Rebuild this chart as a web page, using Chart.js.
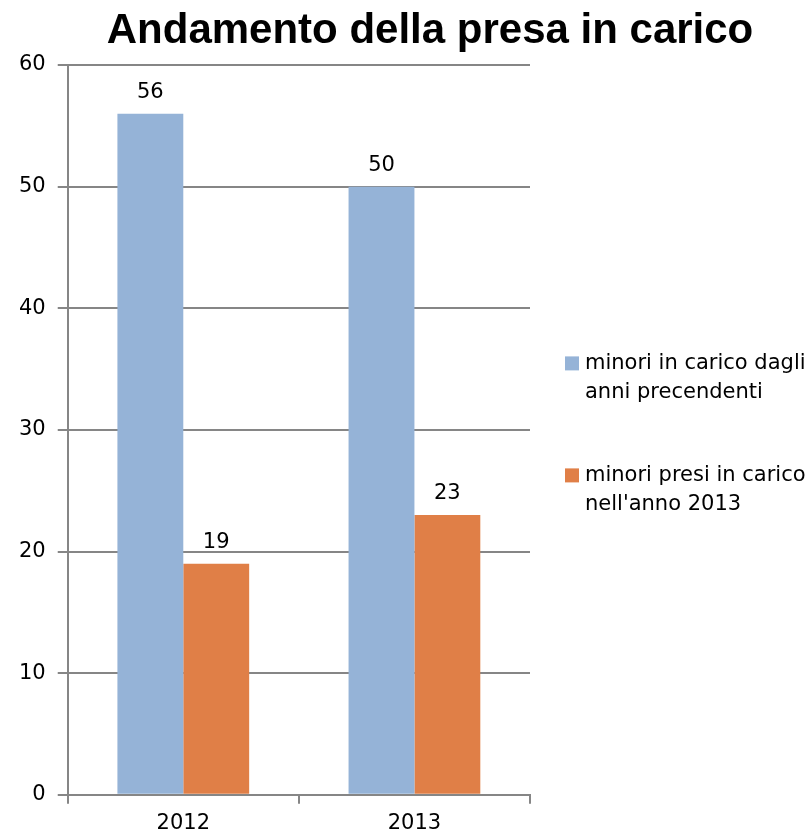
<!DOCTYPE html>
<html>
<head>
<meta charset="utf-8">
<script src="https://cdn.jsdelivr.net/npm/chart.js@4/dist/chart.umd.min.js"></script>
<style>
  html, body { margin: 0; padding: 0; background: #fff; }
  #wrap { width: 809px; height: 835px; }
</style>
</head>
<body>
<div id="wrap"><canvas id="mainChart" width="809" height="835"></canvas></div>
<script>
// Data
const years = ['2012', '2013'];
const caricoPrecedenti = [56, 50];
const presiNel2013 = [19, 23];
const seriesLabels = [
    ['minori in carico dagli', 'anni precendenti'],
    ['minori presi in carico', "nell'anno 2013"]
];
const yTicks = [0, 10, 20, 30, 40, 50, 60];
const chartTitle = 'Andamento della presa in carico';

const FONT = '"DejaVu Sans", sans-serif';
const GRID = '#868686';

// value labels above bars
const valueLabels = {
    id: 'valueLabels',
    afterDatasetsDraw(chart) {
        const ctx = chart.ctx;
        ctx.save();
        ctx.font = '21px ' + FONT;
        ctx.fillStyle = '#000';
        ctx.textAlign = 'center';
        ctx.textBaseline = 'alphabetic';
        chart.data.datasets.forEach((ds, i) => {
            chart.getDatasetMeta(i).data.forEach((bar, j) => {
                ctx.fillText(String(ds.data[j]), bar.x, bar.y - 16);
            });
        });
        ctx.restore();
    }
};

// title, drawn off-centre like the original
const titleText = {
    id: 'titleText',
    afterDraw(chart) {
        const ctx = chart.ctx;
        ctx.save();
        ctx.font = 'bold 42px "Liberation Sans", sans-serif';
        ctx.fillStyle = '#000';
        ctx.textAlign = 'center';
        ctx.textBaseline = 'alphabetic';
        ctx.fillText(chartTitle, 430, 43);
        ctx.restore();
    }
};

// legend on the right with two-line labels
const sideLegend = {
    id: 'sideLegend',
    afterDraw(chart) {
        const ctx = chart.ctx;
        const area = chart.chartArea;
        const lineH = 29;
        const itemGap = 54;
        const items = chart.data.datasets;
        let total = 0;
        items.forEach(ds => { total += ds.label.length * lineH; });
        total += itemGap * (items.length - 1);
        let y = (area.top + area.bottom) / 2 - total / 2 + lineH / 2 + 4;
        const boxX = area.right + 35;
        ctx.save();
        ctx.font = '21px ' + FONT;
        ctx.textAlign = 'left';
        ctx.textBaseline = 'middle';
        items.forEach(ds => {
            ctx.fillStyle = ds.backgroundColor;
            ctx.fillRect(boxX, y - 7, 14, 14);
            ctx.fillStyle = '#000';
            ds.label.forEach((line, k) => {
                ctx.fillText(line, boxX + 20, y + k * lineH);
            });
            y += ds.label.length * lineH + itemGap;
        });
        ctx.restore();
    }
};

new Chart(document.getElementById('mainChart'), {
    type: 'bar',
    data: {
        labels: years,
        datasets: [
            {
                label: seriesLabels[0],
                data: caricoPrecedenti,
                backgroundColor: '#95B3D7',
                categoryPercentage: 0.57,
                barPercentage: 1
            },
            {
                label: seriesLabels[1],
                data: presiNel2013,
                backgroundColor: '#E07F47',
                categoryPercentage: 0.57,
                barPercentage: 1
            }
        ]
    },
    options: {
        responsive: false,
        animation: false,
        devicePixelRatio: 1,
        layout: {
            padding: { top: 65, left: 7, right: 279, bottom: -8 }
        },
        plugins: {
            title: { display: false },
            tooltip: { enabled: false },
            legend: { display: false }
        },
        scales: {
            x: {
                grid: {
                    offset: true,
                    drawOnChartArea: false,
                    drawTicks: true,
                    tickLength: 9,
                    color: GRID,
                    lineWidth: 2
                },
                border: { color: GRID, width: 2 },
                ticks: {
                    color: '#000',
                    font: { family: FONT, size: 21 },
                    padding: 7
                }
            },
            y: {
                min: 0,
                max: 60,
                afterBuildTicks(axis) {
                    axis.ticks = yTicks.map(v => ({ value: v }));
                },
                grid: {
                    color: GRID,
                    lineWidth: 2,
                    tickLength: 10
                },
                border: { color: GRID, width: 2 },
                ticks: {
                    color: '#000',
                    font: { family: FONT, size: 21 },
                    padding: 12
                }
            }
        }
    },
    plugins: [valueLabels, titleText, sideLegend]
});
</script>
</body>
</html>
